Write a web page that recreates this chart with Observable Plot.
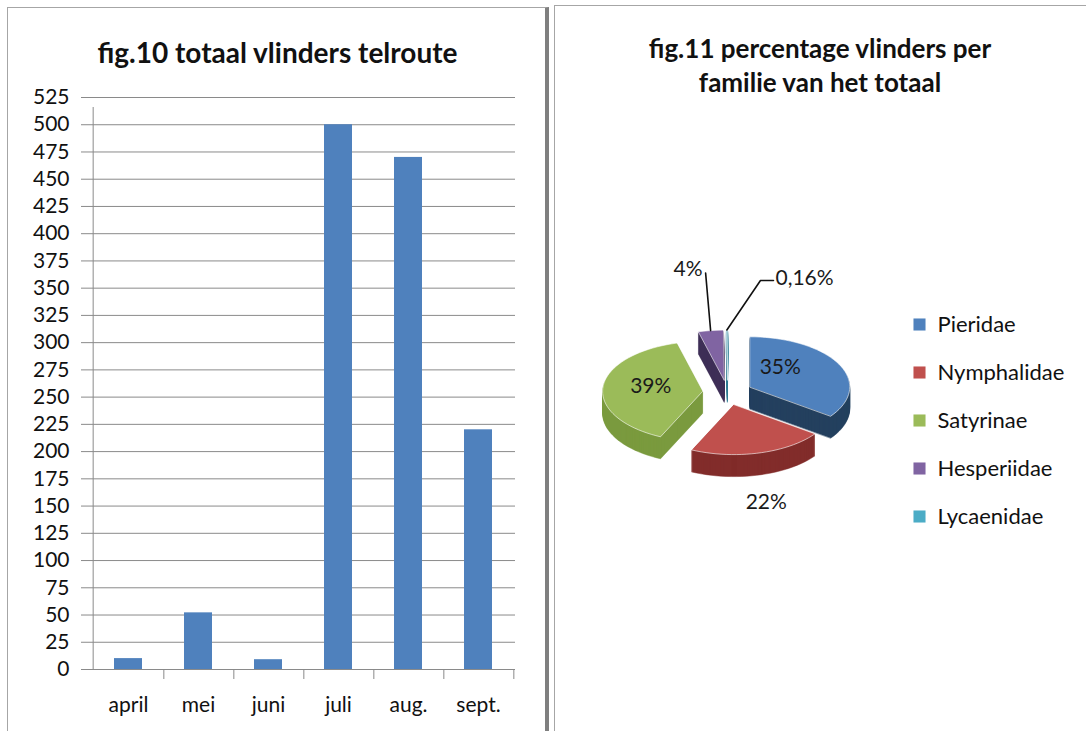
<!DOCTYPE html>
<html><head><meta charset="utf-8">
<script src="https://cdn.jsdelivr.net/npm/d3@7"></script>
<script src="https://cdn.jsdelivr.net/npm/@observablehq/plot@0.6"></script>
<style>
body{margin:0;background:#fff;width:1086px;height:731px;overflow:hidden;position:relative;font-family:Lato,"Open Sans",sans-serif;color:#111;}
.panel{position:absolute;box-sizing:border-box;background:#fff;}
#left{left:7px;top:7px;width:542px;height:740px;border:1px solid #a6a6a6;border-right:4px solid #7f7f7f;}
#right{left:554px;top:5px;width:560px;height:740px;border-left:1px solid #a6a6a6;border-top:1px solid #a6a6a6;}
.title{position:absolute;font-weight:bold;font-size:26px;line-height:34px;color:#111;text-align:center;}
.abs{position:absolute;}
</style></head><body>
<div id="left" class="panel"></div>
<div id="right" class="panel"></div>
<div class="title" style="left:7px;width:541px;top:35px;font-size:28px;">fig.10 totaal vlinders telroute</div>
<div class="title" style="left:554px;width:532px;top:31px;">fig.11 percentage vlinders per<br>familie van het totaal</div>
<div id="bars" class="abs" style="left:8px;top:80px;"></div>
<div id="pie" class="abs" style="left:555px;top:150px;"></div>
<div id="legend" class="abs" style="left:905px;top:295px;"></div>
<script>
// ---- data ----
const months = ["april", "mei", "juni", "juli", "aug.", "sept."];
const counts = [10, 52, 9, 500, 470, 220];
const yTicks = [0, 25, 50, 75, 100, 125, 150, 175, 200, 225, 250, 275, 300, 325, 350, 375, 400, 425, 450, 475, 500, 525];

const families = ["Pieridae", "Nymphalidae", "Satyrinae", "Hesperiidae", "Lycaenidae"];
const percents = [35, 22, 39, 4, 0.16];
const percentLabels = ["35%", "22%", "39%", "4%", "0,16%"];

// ---- styles ----
const barColor = "#4F81BD";
const gridColor = "#8a8a8a";
const topColors = ["#4F81BD", "#C0504D", "#9BBB59", "#8064A2", "#4BACC6"];
const sideColors = ["#24405f", "#822d2b", "#7a9a3e", "#3e2f57", "#2c7b91"];
const font = "Lato, 'Open Sans', sans-serif";

// ---- bar chart ----
const W = 530, H = 650, mL = 83, mR = 23, mT = 17, mB = 61;
const step = (W - mL - mR) / months.length;
const barData = months.map((m, i) => ({month: m, count: counts[i]}));
const bars = Plot.plot({
  width: W, height: H, marginLeft: mL, marginRight: mR, marginTop: mT, marginBottom: mB,
  style: {fontFamily: font, fontSize: "21px", background: "transparent", color: "#111"},
  x: {domain: months, paddingInner: 0.6, paddingOuter: 0.3},
  y: {domain: [0, 525]},
  marks: [
    Plot.gridY(yTicks, {stroke: gridColor, strokeOpacity: 1}),
    Plot.axisY(yTicks, {tickSize: 10, tickPadding: 12, fontSize: 21, stroke: gridColor, fill: "#111", label: null}),
    Plot.ruleX([months[0]], {x: d => d, y1: 0, y2: 525, insetBottom: -10, dx: -step / 2, stroke: gridColor}),
    Plot.ruleX(months, {x: d => d, y1: 0, y2: 0, insetBottom: -10, dx: step / 2, stroke: gridColor}),
    Plot.barY(barData, {x: "month", y: "count", fill: barColor}),
    Plot.axisX({tickSize: 0, tickPadding: 28, fontSize: 21, fill: "#111", label: null})
  ]
});
document.getElementById("bars").appendChild(bars);

// ---- pie chart (3D look) ----
const PW = 350, PH = 400;
const CX = 172, CY = 242, R = 100, TILT = 0.5;
const explode = 0.25, depth = 0.44, layers = 22, arcSteps = 60;
const arcs = d3.pie().sort(null).value(d => d)(percents);
const slices = arcs.map((a, i) => {
  const mid = (a.startAngle + a.endAngle) / 2;
  return {i, fam: families[i], a0: a.startAngle, a1: a.endAngle, mid,
          ox: explode * Math.sin(mid), oy: -explode * Math.cos(mid)};
});
function outline(s) {
  const pts = [{x: s.ox, y: s.oy}];
  const n = Math.max(2, Math.ceil(arcSteps * (s.a1 - s.a0) / Math.PI));
  for (let k = 0; k <= n; k++) {
    const a = s.a0 + (s.a1 - s.a0) * k / n;
    pts.push({x: s.ox + Math.sin(a), y: s.oy - Math.cos(a)});
  }
  return pts;
}
const topRows = [], sideRows = slices.map(() => []);
for (const s of slices) {
  const pts = outline(s);
  for (const p of pts) topRows.push({fam: s.fam, x: p.x, y: p.y});
  for (let L = layers; L >= 1; L--) {
    for (const p of pts) sideRows[s.i].push({layer: L, x: p.x, y: p.y + depth * L / layers});
  }
}
// labels (pixel nudges converted to pie units)
const insideRows = [], outsideRows = [], leaderRows = [], leaderText = [];
const nudgePx = [[-14, -8], [-3, 0], [-2, -3], [0, 0], [0, 0]];
for (const s of slices) {
  const sx = Math.sin(s.mid), cy = -Math.cos(s.mid);
  const p = percents[s.i];
  const nx = nudgePx[s.i][0] / R, ny = nudgePx[s.i][1] / (R * TILT);
  if (p >= 30) {
    insideRows.push({x: s.ox + 0.5 * sx + nx, y: s.oy + 0.5 * cy + ny, t: percentLabels[s.i]});
  } else if (p >= 10) {
    outsideRows.push({x: s.ox + 1.4 * sx + nx, y: s.oy + 1.4 * cy + depth + ny, t: percentLabels[s.i]});
  }
}
// leader lines for the small slices
{
  const sh = slices[3], sl = slices[4];
  const P1 = {x: sh.ox + Math.sin(sh.mid), y: sh.oy - Math.cos(sh.mid)};
  const Q1 = {x: P1.x - 0.05, y: P1.y - 1.15};
  leaderRows.push({k: 0, ...P1}, {k: 0, ...Q1});
  leaderText.push({x: Q1.x, y: Q1.y, t: percentLabels[3], anchor: "end"});
  const P2 = {x: sl.ox + Math.sin(sl.mid), y: sl.oy - Math.cos(sl.mid)};
  const Q2 = {x: P2.x + 0.336, y: P2.y - 0.99};
  const Q3 = {x: Q2.x + 0.13, y: Q2.y};
  leaderRows.push({k: 1, ...P2}, {k: 1, ...Q2}, {k: 1, ...Q3});
  leaderText.push({x: Q3.x, y: Q3.y, t: percentLabels[4], anchor: "start"});
}
const pie = Plot.plot({
  width: PW, height: PH, margin: 0,
  style: {fontFamily: font, background: "transparent", overflow: "visible"},
  x: {domain: [-1, 1], range: [CX - R, CX + R], axis: null},
  y: {domain: [-1, 1], range: [CY - R * TILT, CY + R * TILT], axis: null},
  color: {domain: families, range: topColors},
  marks: [
    ...slices.map(s => Plot.line(sideRows[s.i], {x: "x", y: "y", z: "layer", fill: sideColors[s.i], stroke: sideColors[s.i], strokeWidth: 0.5, curve: "linear-closed"})),
    Plot.line(topRows, {x: "x", y: "y", z: "fam", fill: "fam", stroke: "white", strokeWidth: 0.6, curve: "linear-closed"}),
    Plot.text(insideRows, {x: "x", y: "y", text: "t", fontSize: 21, fill: "#1a1a1a"}),
    Plot.line(leaderRows, {x: "x", y: "y", z: "k", stroke: "#111", strokeWidth: 1.6}),
    Plot.text(outsideRows, {x: "x", y: "y", text: "t", lineAnchor: "top", fontSize: 21, fill: "#1a1a1a"}),
    Plot.text(leaderText.filter(d => d.anchor === "end"), {x: "x", y: "y", text: "t", textAnchor: "end", lineAnchor: "bottom", dx: -3, dy: 3, fontSize: 21, fill: "#1a1a1a"}),
    Plot.text(leaderText.filter(d => d.anchor === "start"), {x: "x", y: "y", text: "t", textAnchor: "start", lineAnchor: "bottom", dx: 2, dy: 4, fontSize: 21, fill: "#1a1a1a"})
  ]
});
document.getElementById("pie").appendChild(pie);

// ---- legend ----
const legend = Plot.plot({
  width: 181, height: 250, margin: 0,
  style: {fontFamily: font, background: "transparent"},
  y: {type: "point", domain: families, range: [27, 222], padding: 0, axis: null},
  color: {domain: families, range: topColors},
  marks: [
    Plot.dot(families, {y: d => d, fill: d => d, symbol: "square", r: 6.8, frameAnchor: "left", dx: 14}),
    Plot.text(families, {y: d => d, text: d => d, frameAnchor: "left", textAnchor: "start", dx: 32, fontSize: 22, fill: "#111"})
  ]
});
document.getElementById("legend").appendChild(legend);
</script>
</body></html>
